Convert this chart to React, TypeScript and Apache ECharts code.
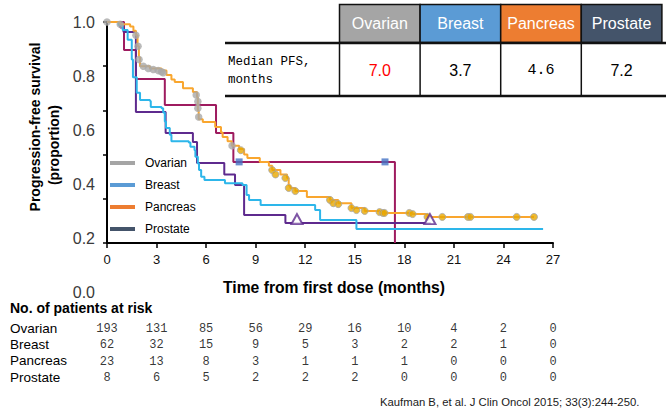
import React, { useEffect, useRef } from "react";
import * as echarts from "echarts";

// ---------- data ----------
const xTicks = [0, 3, 6, 9, 12, 15, 18, 21, 24, 27];
const yLabelValues = [0, 0.2, 0.4, 0.6, 0.8, 1.0];
const groups = ["Ovarian", "Breast", "Pancreas", "Prostate"];
const groupColors = ["#A5A5A5", "#5B9BD5", "#ED7D31", "#44546A"];
const medianPFS = ["7.0", "3.7", "4.6", "7.2"];

const riskOvarian = [193, 131, 85, 56, 29, 16, 10, 4, 2, 0];
const riskBreast = [62, 32, 15, 9, 5, 3, 2, 2, 1, 0];
const riskPancreas = [23, 13, 8, 3, 1, 1, 1, 0, 0, 0];
const riskProstate = [8, 6, 5, 2, 2, 2, 0, 0, 0, 0];

const curveOvarian = [
  [0, 1], [0.8, 0.99], [1.4, 0.98], [1.6, 0.96], [1.75, 0.94], [1.85, 0.89], [1.93, 0.84],
  [2.0, 0.8], [2.6, 0.79], [3.3, 0.78], [3.6, 0.76], [3.9, 0.74], [4.1, 0.728], [4.6, 0.7],
  [5.2, 0.683], [5.45, 0.66], [5.5, 0.6], [5.55, 0.56], [5.8, 0.548], [6.55, 0.525],
  [6.9, 0.5], [7.0, 0.48], [7.3, 0.46], [7.55, 0.44], [8.0, 0.425], [8.3, 0.4], [8.5, 0.385],
  [9.25, 0.367], [9.8, 0.35], [10.0, 0.33], [10.5, 0.31], [10.9, 0.294], [11.0, 0.26],
  [11.1, 0.249], [11.4, 0.235], [12.1, 0.208], [13.5, 0.195], [14.0, 0.18], [14.8, 0.158],
  [15.6, 0.145], [16.8, 0.136], [18.5, 0.131], [19.4, 0.118], [25.85, 0.118],
];
const curveBreast = [
  [0, 1], [0.7, 0.986], [0.95, 0.964], [1.25, 0.92], [1.5, 0.83], [1.57, 0.75], [1.8, 0.68],
  [2.0, 0.647], [2.6, 0.643], [2.65, 0.615], [3.3, 0.61], [3.4, 0.59], [3.5, 0.55],
  [3.57, 0.52], [3.8, 0.49], [3.9, 0.46], [4.95, 0.455], [5.05, 0.435], [5.3, 0.42],
  [5.35, 0.39], [5.5, 0.36], [5.57, 0.33], [5.7, 0.3], [5.9, 0.285], [7.14, 0.27],
  [8.2, 0.262], [8.45, 0.217], [8.6, 0.195], [9.3, 0.172], [12.6, 0.149], [12.9, 0.104],
  [15.1, 0.063], [26.4, 0.063],
];
const curvePancreas = [
  [0, 1], [0.8, 0.975], [1.0, 0.955], [1.75, 0.593], [3.55, 0.498], [5.2, 0.457],
  [5.45, 0.362], [7.1, 0.31], [7.75, 0.262], [8.3, 0.127], [10.8, 0.09], [19.6, 0.09],
];
const curveProstate = [
  [0, 1], [1.03, 0.873], [1.75, 0.742], [3.5, 0.624], [6.6, 0.498], [7.65, 0.367],
  [17.43, 0],
];
const censorGray = [
  [0, 1], [0.8, 0.99], [1.75, 0.94], [1.88, 0.89], [1.94, 0.83], [2.2, 0.8], [2.5, 0.79],
  [2.8, 0.785], [3.1, 0.78], [3.3, 0.775], [3.4, 0.77], [5.4, 0.67], [5.5, 0.64],
  [5.5, 0.61], [5.55, 0.57], [7.57, 0.44],
];
const censorGold = [
  [8.1, 0.42], [10.0, 0.33], [10.2, 0.31], [10.8, 0.294], [11.0, 0.249], [11.4, 0.235],
  [13.5, 0.195], [13.7, 0.18], [14.0, 0.176], [14.8, 0.158], [15.1, 0.149], [15.6, 0.145],
  [16.5, 0.14], [16.7, 0.136], [16.8, 0.136], [18.3, 0.136], [18.5, 0.131], [19.4, 0.118],
  [20.3, 0.118], [21.85, 0.118], [22.0, 0.118], [24.8, 0.118], [25.85, 0.118],
];
const censorSquare = [[8.0, 0.367], [16.83, 0.367]];
const censorTriangle = [[11.5, 0.09], [19.55, 0.09]];

// ---------- component ----------
const SANS = "'Liberation Sans', Arial, sans-serif";
const MONO = "'Liberation Mono', 'DejaVu Sans Mono', monospace";

export default function App() {
  const ref = useRef<HTMLDivElement | null>(null);

  useEffect(() => {
    if (!ref.current) return;
    const chart = echarts.init(ref.current, undefined, { renderer: "svg" });

    const risks = [riskOvarian, riskBreast, riskPancreas, riskProstate];
    const riskData: any[] = [];
    risks.forEach((row, r) => row.forEach((v, i) => riskData.push([xTicks[i], r, v])));

    // table graphic
    const tableLeft = 339.5;
    const cellW = 80.6;
    const table: any[] = [];
    groups.forEach((g, i) => {
      const x = tableLeft + i * cellW;
      table.push({
        type: "rect",
        shape: { x, y: 4.5, width: cellW, height: 38 },
        style: { fill: groupColors[i], stroke: "#111", lineWidth: 1.5 },
      });
      table.push({
        type: "text",
        x: x + cellW / 2,
        y: 23.5,
        style: { text: g, fill: "#fff", font: `16px ${SANS}`, align: "center", verticalAlign: "middle" },
      });
      table.push({
        type: "line",
        shape: { x1: x, y1: 43, x2: x, y2: 96 },
        style: { stroke: "#111", lineWidth: 1.5 },
      });
      table.push({
        type: "text",
        x: x + cellW / 2,
        y: 70,
        style: {
          text: medianPFS[i],
          fill: i === 0 ? "#FF0000" : "#000",
          font: i === 2 ? `15px ${MONO}` : `16px ${SANS}`,
          align: "center",
          verticalAlign: "middle",
        },
      });
    });
    table.push(
      { type: "line", shape: { x1: 225, y1: 43, x2: 666, y2: 43 }, style: { stroke: "#111", lineWidth: 2.5 } },
      { type: "line", shape: { x1: 225, y1: 96, x2: 666, y2: 96 }, style: { stroke: "#111", lineWidth: 2.5 } },
      {
        type: "text", x: 228, y: 62,
        style: { text: "Median PFS,", fill: "#000", font: `12.5px ${MONO}`, verticalAlign: "middle" },
      },
      {
        type: "text", x: 228, y: 80,
        style: { text: "months", fill: "#000", font: `12.5px ${MONO}`, verticalAlign: "middle" },
      }
    );

    const lineSeries = (name: string, data: number[][], color: string) => ({
      type: "line",
      name,
      xAxisIndex: 0,
      yAxisIndex: 0,
      data,
      step: "end",
      showSymbol: false,
      symbol: "none",
      clip: true,
      lineStyle: { color, width: 2 },
      itemStyle: { color },
      z: 3,
    });

    chart.setOption({
      animation: false,
      backgroundColor: "#fff",
      grid: [
        { left: 107, right: 113, top: 22, height: 221 },
        { left: 107, right: 113, top: 22, height: 270 },
        { left: 107, right: 113, top: 320, height: 65.3 },
      ],
      xAxis: [
        {
          type: "value", gridIndex: 0, min: 0, max: 27, interval: 3,
          axisLine: { show: true, onZero: false, lineStyle: { color: "#000", width: 2 } },
          axisTick: { show: true, inside: false, length: 5, lineStyle: { color: "#000", width: 1.5 } },
          axisLabel: { show: true, fontSize: 13, color: "#111", fontFamily: SANS, margin: 10 },
          splitLine: { show: false },
        },
        { type: "value", gridIndex: 1, min: 0, max: 1, show: false },
        { type: "value", gridIndex: 2, min: 0, max: 27, interval: 3, show: false },
      ],
      yAxis: [
        {
          type: "value", gridIndex: 0, min: 0, max: 1, interval: 0.2,
          axisLine: { show: true, onZero: false, lineStyle: { color: "#000", width: 2 } },
          axisTick: { show: true, inside: false, length: 4, lineStyle: { color: "#000", width: 1.5 } },
          axisLabel: { show: false },
          splitLine: { show: false },
        },
        {
          type: "value", gridIndex: 1, min: yLabelValues[0], max: yLabelValues[yLabelValues.length - 1], interval: 0.2,
          axisLine: { show: false }, axisTick: { show: false }, splitLine: { show: false },
          axisLabel: {
            show: true, fontSize: 16, color: "#3a3a3a", fontFamily: SANS, margin: 12,
            formatter: (v: number) => v.toFixed(1),
          },
        },
        {
          type: "category", gridIndex: 2, data: groups, inverse: true,
          axisLine: { show: false }, axisTick: { show: false }, splitLine: { show: false },
          axisLabel: { show: true, interval: 0, align: "left", margin: 97, fontSize: 13.5, color: "#000", fontFamily: SANS },
        },
      ],
      legend: {
        orient: "vertical",
        left: 110,
        top: 157,
        padding: 0,
        icon: "rect",
        itemWidth: 25,
        itemHeight: 4,
        itemGap: 10,
        selectedMode: false,
        textStyle: { fontSize: 12, color: "#000", fontFamily: SANS, padding: [0, 0, 0, 5] },
        data: groups.map((g, i) => ({ name: g, itemStyle: { color: groupColors[i] } })),
      },
      series: [
        lineSeries("Prostate", curveProstate, "#9E1B5F"),
        lineSeries("Pancreas", curvePancreas, "#5E2A8E"),
        lineSeries("Breast", curveBreast, "#2DB6EA"),
        lineSeries("Ovarian", curveOvarian, "#F9A62E"),
        {
          type: "scatter", name: "censorGray", xAxisIndex: 0, yAxisIndex: 0, data: censorGray,
          symbol: "circle", symbolSize: 7.5, itemStyle: { color: "#A9A9A9" }, z: 5,
        },
        {
          type: "scatter", name: "censorGold", xAxisIndex: 0, yAxisIndex: 0, data: censorGold,
          symbol: "circle", symbolSize: 7, itemStyle: { color: "#E9A800", borderColor: "#A8A8A8", borderWidth: 1 }, z: 5,
        },
        {
          type: "scatter", name: "censorSquare", xAxisIndex: 0, yAxisIndex: 0, data: censorSquare,
          symbol: "rect", symbolSize: 7, itemStyle: { color: "#4472C4" }, z: 5,
        },
        {
          type: "scatter", name: "censorTriangle", xAxisIndex: 0, yAxisIndex: 0, data: censorTriangle,
          symbol: "triangle", symbolSize: [11, 10], symbolOffset: [0, -4],
          itemStyle: { color: "#fff", borderColor: "#5E2A8E", borderWidth: 2 }, z: 5,
        },
        {
          type: "scatter", name: "risk", xAxisIndex: 2, yAxisIndex: 2, data: riskData,
          symbolSize: 1, itemStyle: { color: "rgba(0,0,0,0)" },
          label: {
            show: true, position: "inside", formatter: (p: any) => String(p.value[2]),
            fontSize: 12, color: "#000", fontFamily: MONO, offset: [0, 1],
          },
        },
      ],
      graphic: [
        {
          type: "text", x: 34.5, y: 127, rotation: Math.PI / 2,
          style: { text: "Progression-free survival", fill: "#000", font: `bold 14px ${SANS}`, align: "center", verticalAlign: "middle" },
        },
        {
          type: "text", x: 53.5, y: 145, rotation: Math.PI / 2,
          style: { text: "(proportion)", fill: "#000", font: `bold 14px ${SANS}`, align: "center", verticalAlign: "middle" },
        },
        {
          type: "text", x: 334, y: 287,
          style: { text: "Time from first dose (months)", fill: "#000", font: `bold 15.7px ${SANS}`, align: "center", verticalAlign: "middle" },
        },
        {
          type: "text", x: 10, y: 308,
          style: { text: "No. of patients at risk", fill: "#000", font: `bold 14px ${SANS}`, verticalAlign: "middle" },
        },
        {
          type: "text", x: 380, y: 402,
          style: { text: "Kaufman B, et al. J Clin Oncol 2015; 33(3):244-250.", fill: "#1a1a1a", font: `11.3px ${SANS}`, verticalAlign: "middle" },
        },
        ...table,
      ],
    });

    return () => chart.dispose();
  }, []);

  return (
    <div
      ref={ref}
      style={{ position: "fixed", left: 0, top: 0, width: 666, height: 408, background: "#fff" }}
    />
  );
}
